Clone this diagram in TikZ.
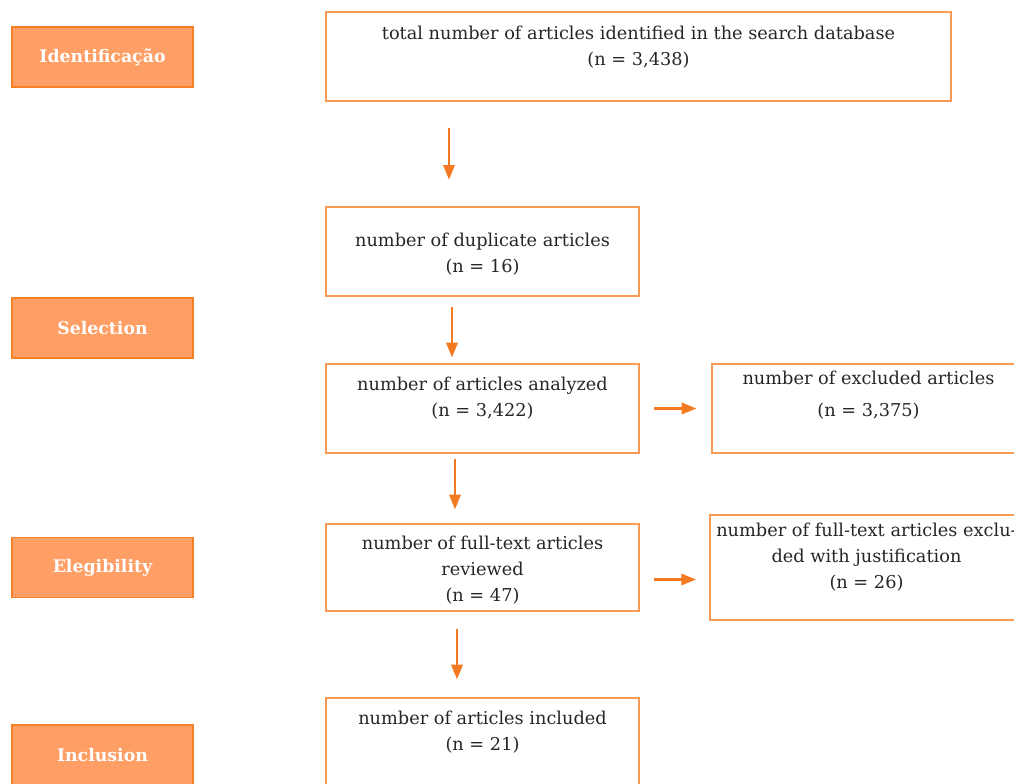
\documentclass[tikz,border=0pt]{standalone}
\usepackage{fontspec}
\setmainfont{DejaVu Serif}
\usetikzlibrary{arrows.meta}

\definecolor{boxline}{HTML}{F79A55}
\definecolor{stagefill}{HTML}{FF9F66}
\definecolor{stageline}{HTML}{F58025}
\definecolor{arrowcol}{HTML}{F37A21}

\tikzset{
    stage/.style={draw=stageline, line width=0.8pt, fill=stagefill, minimum width=135.75pt, minimum height=45pt,
        text=white, font=\fontsize{13}{15}\selectfont\bfseries},
    box/.style={draw=boxline, line width=0.9pt, minimum width=234.75pt, minimum height=66.75pt},
    txt/.style={anchor=north, inner sep=0pt, align=center, text=black!85, font=\fontsize{13.3}{19.5}\selectfont},
    arr/.style={draw=arrowcol, line width=1.6pt, -{Triangle[length=11pt,width=8.5pt]}}
}

\begin{document}
\begin{tikzpicture}[x=0.75pt, y=-0.75pt]
        \clip (0,0) rectangle (1014,784);

        % Define the stages
        \node[stage] (ident) at (102.5,57) {Identificação};
        \node[stage] (sel) at (102.5,328) {Selection};
        \node[stage] (eleg) at (102.5,567.5) {Elegibility};
        \node[stage] (incl) at (102.5,755) {Inclusion};

        % Define the boxes
        \node[box, minimum width=468.75pt, label={[txt, yshift=-10.5pt]north:total number of articles identified in the search database\\(n = 3,438)}] (total) at (638.5,56.5) {};
        \node[box, label={[txt, yshift=-19.5pt]north:number of duplicate articles\\(n = 16)}] (dup) at (482.5,251.5) {};
        \node[box, label={[txt, yshift=-9.75pt]north:number of articles analyzed\\(n = 3,422)}] (ana) at (482.5,408.5) {};
        \node[box, label={[txt, yshift=-5.25pt]north:number of excluded articles\\[4.5pt](n = 3,375)}] (exc) at (868.5,408.5) {};
        \node[box, minimum height=65.25pt, label={[txt, yshift=-9pt]north:number of full-text articles\\reviewed\\(n = 47)}] (full) at (482.5,567.5) {};
        \node[box, minimum height=78.75pt, label={[txt, yshift=-6pt]north:number of full-text articles exclu-\\ded with justification\\(n = 26)}] (just) at (866.5,567.5) {};
        \node[box, label={[txt, yshift=-9.75pt]north:number of articles included\\(n = 21)}] (inc) at (482.5,742.5) {};

        % Define the arrows
        \draw[arr, shorten <=20pt, shorten >=20pt] (total.south -| 449,0) -- (dup.north -| 449,0);
        \draw[arr, shorten <=7.5pt, shorten >=4.5pt] (dup.south -| 452,0) -- (ana.north -| 452,0);
        \draw[arr, shorten <=4pt, shorten >=10.5pt] (ana.south -| 455,0) -- (full.north -| 455,0);
        \draw[arr, shorten <=12.75pt, shorten >=13.5pt] (full.south -| 457,0) -- (inc.north -| 457,0);
        \draw[arr, shorten <=10.5pt, shorten >=11.25pt] (ana.east) -- (exc.west);
        \draw[arr, shorten <=10.5pt, shorten >=10pt] ([yshift=-9pt]full.east) -- ([yshift=-9pt]full.east -| just.west);

    \end{tikzpicture}
\end{document}
